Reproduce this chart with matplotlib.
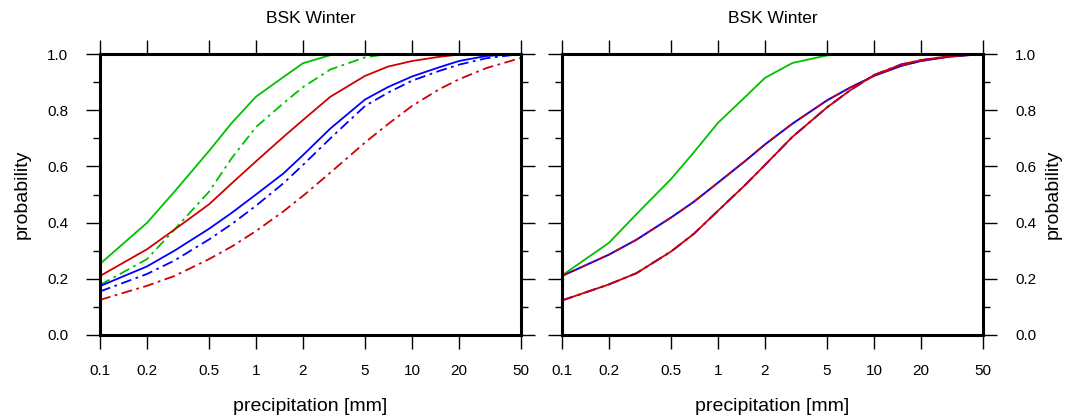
import matplotlib
matplotlib.use("Agg")
import matplotlib.pyplot as plt
from matplotlib.ticker import FixedLocator, NullFormatter

plt.rcParams["font.family"] = ["Liberation Sans", "DejaVu Sans"]

# precipitation thresholds [mm]
precip = [0.1, 0.2, 0.3, 0.5, 0.7, 1, 1.5, 2, 3, 5, 7, 10, 15, 20, 30, 50]

# left panel: cumulative probabilities
left_green_solid = [0.253, 0.399, 0.51, 0.655, 0.755, 0.848, 0.918, 0.967, 0.996, 1.0, 1.0, 1.0, 1.0, 1.0, 1.0, 1.0]
left_green_dash = [0.178, 0.27, 0.375, 0.51, 0.63, 0.74, 0.825, 0.882, 0.945, 0.988, 1.0, 1.0, 1.0, 1.0, 1.0, 1.0]
left_red_solid = [0.21, 0.305, 0.375, 0.465, 0.54, 0.618, 0.705, 0.765, 0.848, 0.922, 0.955, 0.975, 0.99, 0.998, 1.0, 1.0]
left_blue_solid = [0.174, 0.244, 0.30, 0.378, 0.435, 0.50, 0.575, 0.64, 0.735, 0.838, 0.882, 0.92, 0.953, 0.975, 0.993, 1.0]
left_blue_dash = [0.155, 0.217, 0.265, 0.34, 0.395, 0.46, 0.54, 0.605, 0.70, 0.815, 0.862, 0.905, 0.94, 0.962, 0.985, 1.0]
left_red_dash = [0.125, 0.175, 0.21, 0.27, 0.315, 0.37, 0.44, 0.495, 0.578, 0.685, 0.75, 0.815, 0.875, 0.91, 0.95, 0.986]

# right panel: cumulative probabilities
right_green = [0.212, 0.328, 0.43, 0.555, 0.65, 0.755, 0.848, 0.915, 0.968, 0.995, 1.0, 1.0, 1.0, 1.0, 1.0, 1.0]
right_upper = [0.21, 0.286, 0.339, 0.418, 0.474, 0.542, 0.62, 0.678, 0.752, 0.835, 0.88, 0.922, 0.958, 0.975, 0.99, 1.0]
right_lower = [0.123, 0.18, 0.22, 0.297, 0.36, 0.442, 0.535, 0.605, 0.705, 0.81, 0.87, 0.925, 0.963, 0.978, 0.992, 1.0]

xticks = [0.1, 0.2, 0.5, 1, 2, 5, 10, 20, 50]
xtick_labels = ["0.1", "0.2", "0.5", "1", "2", "5", "10", "20", "50"]
yticks = [0.0, 0.2, 0.4, 0.6, 0.8, 1.0]
yminor = [0.1, 0.3, 0.5, 0.7, 0.9]

GREEN = "#00c000"
RED = "#d00000"
BLUE = "#0000ff"
DASHDOT = (0, (6, 2.5, 1.5, 2.5))

fig = plt.figure(figsize=(10.65, 4.18), dpi=100)
ax_l = fig.add_axes([100 / 1065, 83 / 418, 421 / 1065, 281 / 418])
ax_r = fig.add_axes([562 / 1065, 83 / 418, 421 / 1065, 281 / 418])


def style(ax, right):
    ax.set_xscale("log")
    ax.set_xlim(0.1, 50)
    ax.set_ylim(0, 1)
    ax.xaxis.set_major_locator(FixedLocator(xticks))
    ax.xaxis.set_minor_locator(FixedLocator([]))
    ax.set_xticklabels(xtick_labels)
    ax.xaxis.set_minor_formatter(NullFormatter())
    ax.set_yticks(yticks)
    ax.set_yticklabels([f"{v:.1f}" for v in yticks])
    ax.yaxis.set_minor_locator(FixedLocator(yminor))
    ax.tick_params(which="major", direction="out", length=10, width=1.0,
                   labelsize=11, top=True, right=True, bottom=True, left=True)
    ax.tick_params(which="minor", direction="out", length=5, width=1.0,
                   left=True, right=True)
    ax.tick_params(axis="x", pad=11)
    ax.tick_params(axis="y", pad=13)
    for s in ax.spines.values():
        s.set_linewidth(2.2)
    ax.set_title("BSK Winter", fontsize=12.5, pad=22)
    ax.set_xlabel("precipitation [mm]", fontsize=14, labelpad=14)
    if right:
        ax.tick_params(axis="y", labelleft=False, labelright=True)
        ax.yaxis.set_label_position("right")
        ax.set_ylabel("probability", fontsize=14, labelpad=6, rotation=90)
    else:
        ax.set_ylabel("probability", fontsize=14, labelpad=12)


ax_l.plot(precip, left_red_dash, color=RED, lw=1.3, ls=DASHDOT)
ax_l.plot(precip, left_blue_dash, color=BLUE, lw=1.3, ls=DASHDOT)
ax_l.plot(precip, left_green_dash, color=GREEN, lw=1.3, ls=DASHDOT)
ax_l.plot(precip, left_blue_solid, color=BLUE, lw=1.3)
ax_l.plot(precip, left_red_solid, color=RED, lw=1.3)
ax_l.plot(precip, left_green_solid, color=GREEN, lw=1.3)
style(ax_l, False)

ax_r.plot(precip, right_green, color=GREEN, lw=1.3)
ax_r.plot(precip, right_upper, color=BLUE, lw=1.4)
ax_r.plot(precip, right_upper, color=RED, lw=1.1, ls=DASHDOT)
ax_r.plot(precip, right_lower, color=BLUE, lw=1.4, ls=DASHDOT)
ax_r.plot(precip, right_lower, color=RED, lw=1.3)
style(ax_r, True)

fig.savefig("out.png", dpi=100)
